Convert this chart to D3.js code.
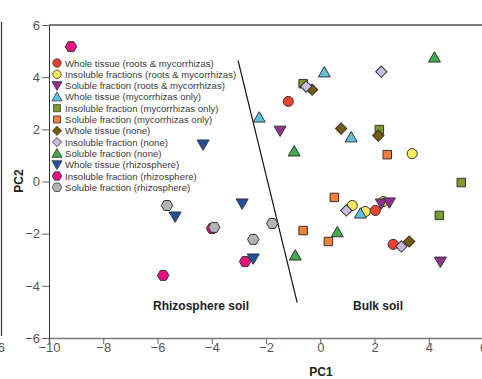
<!DOCTYPE html>
<html>
<head>
<meta charset="utf-8">
<script src="https://cdn.jsdelivr.net/npm/d3@7"></script>
<style>
  body { margin: 0; background: #fff; }
  svg { display: block; }
</style>
</head>
<body>
<svg id="chart" width="482" height="379"></svg>
<script>
// series labels, in legend order
const seriesNames = [
  "Whole tissue (roots & mycorrhizas)",
  "Insoluble fractions (roots & mycorrhizas)",
  "Soluble fraction (roots & mycorrhizas)",
  "Whole tissue (mycorrhizas only)",
  "Insoluble fraction (mycorrhizas only)",
  "Soluble fraction (mycorrhizas only)",
  "Whole tissue (none)",
  "Insoluble fraction (none)",
  "Soluble fraction (none)",
  "Whole tissue (rhizosphere)",
  "Insoluble fraction (rhizosphere)",
  "Soluble fraction (rhizosphere)"
];
const seriesShapes = ["circle", "circle", "down", "up", "square", "square",
                      "diamond", "diamond", "up", "down", "hexagon", "hexagon"];
const seriesColors = ["#ee4130", "#f6ea5c", "#93308f", "#5dc3dc", "#7d9b2b", "#f47f3a",
                      "#7b5b10", "#cbb9de", "#40ad4a", "#22509e", "#e7127f", "#b2b4b6"];

// PC1 / PC2 scores per series
const pc1 = [
  [-1.18, 2.03, 2.69],
  [3.39, 1.18, 1.66, 2.32],
  [-1.48, 2.25, 2.55, 4.43],
  [0.15, -2.25, 1.14, 1.48],
  [-0.63, 2.18, 5.20, 4.39],
  [2.47, 0.52, -0.63, 0.30],
  [-0.30, 0.77, 2.14, 3.28],
  [-0.52, 2.25, 0.96, 2.99],
  [4.21, -0.96, 0.63, -0.92],
  [-4.32, -5.35, -2.88, -2.47],
  [-9.19, -5.79, -3.99, -2.77],
  [-5.65, -3.91, -2.47, -1.77]
];
const pc2 = [
  [3.07, -1.11, -2.41],
  [1.07, -0.92, -1.15, -0.77],
  [1.95, -0.84, -0.80, -3.07],
  [4.18, 2.45, 1.69, -1.23],
  [3.75, 1.99, -0.04, -1.30],
  [1.03, -0.61, -1.88, -2.30],
  [3.52, 2.03, 1.76, -2.30],
  [3.64, 4.21, -1.11, -2.49],
  [4.75, 1.15, -1.95, -2.84],
  [1.42, -1.34, -0.84, -2.95],
  [5.17, -3.60, -1.80, -3.07],
  [-0.92, -1.76, -2.22, -1.61]
];

// dividing line between rhizosphere and bulk soil
const dividerPC1 = [-3.03, -0.85];
const dividerPC2 = [4.64, -4.64];

const xTicks = [-10, -8, -6, -4, -2, 0, 2, 4, 6];
const yTicks = [-6, -4, -2, 0, 2, 4, 6];

const svg = d3.select("#chart");
const x = d3.scaleLinear().domain([-10, 6]).range([49, 483]);
const y = d3.scaleLinear().domain([-6, 6]).range([338, 25]);

const tickFont = "'Liberation Sans', Arial, sans-serif";
const legendFont = "'Liberation Sans Narrow', 'Liberation Sans', Arial, sans-serif";

// hexagon symbol
const hexagon = {
  draw(ctx, size) {
    const r = Math.sqrt(size / 2.598);
    for (let i = 0; i < 6; i++) {
      const a = Math.PI / 3 * i;
      const px = r * Math.cos(a), py = r * Math.sin(a);
      if (i === 0) ctx.moveTo(px, py); else ctx.lineTo(px, py);
    }
    ctx.closePath();
  }
};

function shapePath(shape) {
  if (shape === "circle") return d3.symbol(d3.symbolCircle, 80)();
  if (shape === "square") return d3.symbol(d3.symbolSquare, 72)();
  if (shape === "diamond") return d3.symbol(d3.symbolSquare, 64)();
  if (shape === "hexagon") return d3.symbol(hexagon, 85)();
  return d3.symbol(d3.symbolTriangle, 62)();
}
function shapeRotate(shape) {
  if (shape === "down") return 180;
  if (shape === "diamond") return 45;
  return 0;
}
function shapeShift(shape) {
  // d3 triangle is centred on its centroid; nudge to look centred
  if (shape === "up") return 1;
  if (shape === "down") return -1;
  return 0;
}

// artefact of neighbouring panel on left edge
svg.append("line")
  .attr("x1", 1.5).attr("x2", 1.5).attr("y1", 22).attr("y2", 336)
  .attr("stroke", "#333").attr("stroke-width", 1.2);
svg.append("text")
  .attr("x", 5).attr("y", 352)
  .attr("text-anchor", "end")
  .style("font-family", tickFont).style("font-size", "13px").attr("fill", "#555")
  .text("6");

// axes
const xAxis = svg.append("g")
  .attr("transform", "translate(0,338)")
  .call(d3.axisBottom(x).tickValues(xTicks).tickSize(6).tickPadding(-1).tickFormat(d3.format("d")));
const yAxis = svg.append("g")
  .attr("transform", "translate(49,0)")
  .call(d3.axisLeft(y).tickValues(yTicks).tickSize(7).tickPadding(2).tickFormat(d3.format("d")));

[xAxis, yAxis].forEach(g => {
  g.selectAll("text")
    .style("font-family", tickFont).style("font-size", "13px").attr("fill", "#555");
  g.selectAll(".tick line").attr("stroke", "#666");
});
xAxis.select(".domain").attr("stroke", "#7a7a7a").attr("stroke-width", 1.6);
yAxis.select(".domain").attr("stroke", "#333");

// top frame line
svg.append("line")
  .attr("x1", x(-10)).attr("x2", 482).attr("y1", y(6)).attr("y2", y(6))
  .attr("stroke", "#7a7a7a").attr("stroke-width", 1.8);

// axis titles
svg.append("text")
  .attr("x", 321).attr("y", 376)
  .attr("text-anchor", "middle")
  .style("font-family", tickFont).style("font-size", "12px").style("font-weight", "bold")
  .attr("fill", "#222")
  .text("PC1");
svg.append("text")
  .attr("transform", "translate(23,181) rotate(-90)")
  .attr("text-anchor", "middle")
  .style("font-family", tickFont).style("font-size", "12px").style("font-weight", "bold")
  .attr("fill", "#222")
  .text("PC2");

// divider line
svg.append("line")
  .attr("x1", x(dividerPC1[0])).attr("y1", y(dividerPC2[0]))
  .attr("x2", x(dividerPC1[1])).attr("y2", y(dividerPC2[1]))
  .attr("stroke", "#111").attr("stroke-width", 1.2);

// region labels
svg.append("text")
  .attr("x", 201).attr("y", 310)
  .attr("text-anchor", "middle")
  .style("font-family", tickFont).style("font-size", "12px").style("font-weight", "bold")
  .attr("fill", "#222")
  .text("Rhizosphere soil");
svg.append("text")
  .attr("x", 378).attr("y", 310)
  .attr("text-anchor", "middle")
  .style("font-family", tickFont).style("font-size", "12px").style("font-weight", "bold")
  .attr("fill", "#222")
  .text("Bulk soil");

// points
const points = [];
seriesNames.forEach((name, i) => {
  pc1[i].forEach((v, j) => points.push({ s: i, px: v, py: pc2[i][j] }));
});

svg.append("g").selectAll("path")
  .data(points)
  .join("path")
  .attr("d", d => shapePath(seriesShapes[d.s]))
  .attr("transform", d => "translate(" + x(d.px) + "," + (y(d.py) + shapeShift(seriesShapes[d.s])) + ") rotate(" + shapeRotate(seriesShapes[d.s]) + ")")
  .attr("fill", d => seriesColors[d.s])
  .attr("stroke", "#333")
  .attr("stroke-width", 1);

// legend
const legend = svg.append("g").attr("transform", "translate(57,63)");
const rows = legend.selectAll("g")
  .data(seriesNames)
  .join("g")
  .attr("transform", (d, i) => "translate(0," + (i * 11.3) + ")");
rows.append("path")
  .attr("d", (d, i) => {
    const s = seriesShapes[i];
    if (s === "circle") return d3.symbol(d3.symbolCircle, 55)();
    if (s === "square") return d3.symbol(d3.symbolSquare, 50)();
    if (s === "diamond") return d3.symbol(d3.symbolSquare, 42)();
    if (s === "hexagon") return d3.symbol(hexagon, 60)();
    return d3.symbol(d3.symbolTriangle, 45)();
  })
  .attr("transform", (d, i) => "translate(0," + shapeShift(seriesShapes[i]) + ") rotate(" + shapeRotate(seriesShapes[i]) + ")")
  .attr("fill", (d, i) => seriesColors[i])
  .attr("stroke", "#333")
  .attr("stroke-width", 0.8);
rows.append("text")
  .attr("x", 8).attr("y", 3.5)
  .style("font-family", legendFont).style("font-size", "9.6px")
  .attr("fill", "#3a3a3a")
  .text(d => d);
</script>
</body>
</html>
